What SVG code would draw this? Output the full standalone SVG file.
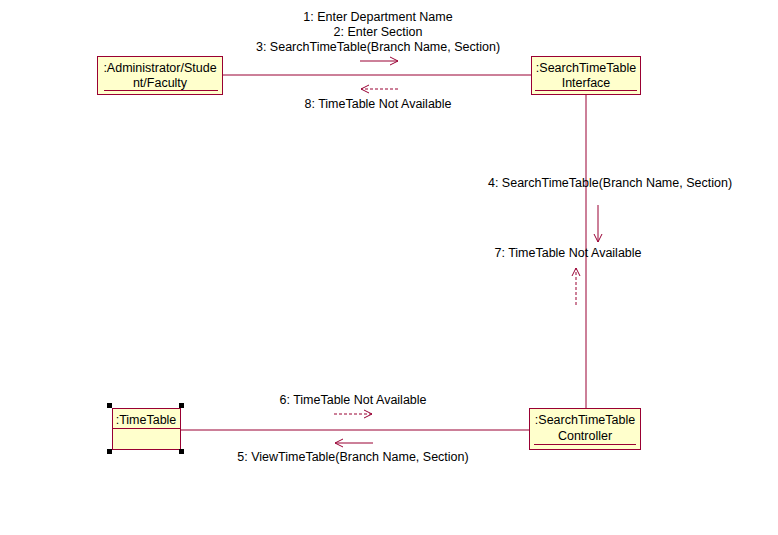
<svg xmlns="http://www.w3.org/2000/svg" width="778" height="535" viewBox="0 0 778 535">
<style>
.box{fill:#FFFFCC;stroke:#990033;stroke-width:1}
.ul{stroke:#990033;stroke-width:1}
.ln{stroke:#990033;stroke-width:1;fill:none}
.dash{stroke-dasharray:3,2}
text{font-family:"Liberation Sans",Arial,sans-serif;font-size:12.5px;fill:#000}
.c{text-anchor:middle}
</style>
<defs>
<marker id="ah" markerWidth="10" markerHeight="10" refX="9" refY="5" orient="auto" markerUnits="userSpaceOnUse">
<path d="M1,1 L9,5 L1,9" fill="none" stroke="#990033" stroke-width="1"/>
</marker>
</defs>
<rect width="778" height="535" fill="#fff"/>
<g id="connectors">
<line class="ln" x1="223" y1="75" x2="531" y2="75"/>
<line class="ln" x1="586" y1="94" x2="586" y2="408"/>
<line class="ln" x1="181" y1="430" x2="529" y2="430"/>
<line class="ln" x1="360" y1="61" x2="398" y2="61" marker-end="url(#ah)"/>
<line class="ln dash" x1="398" y1="89" x2="361" y2="89" marker-end="url(#ah)"/>
<line class="ln" x1="598" y1="205" x2="598" y2="242" marker-end="url(#ah)"/>
<line class="ln dash" x1="576" y1="305" x2="576" y2="268" marker-end="url(#ah)"/>
<line class="ln dash" x1="334" y1="414" x2="372" y2="414" marker-end="url(#ah)"/>
<line class="ln" x1="373" y1="443" x2="335" y2="443" marker-end="url(#ah)"/>
<text class="c" x="378" y="21">1: Enter Department Name</text>
<text class="c" x="378" y="36">2: Enter Section</text>
<text class="c" x="378" y="51">3: SearchTimeTable(Branch Name, Section)</text>
<text class="c" x="378" y="108">8: TimeTable Not Available</text>
<text class="c" x="610" y="187">4: SearchTimeTable(Branch Name, Section)</text>
<text class="c" x="568" y="257">7: TimeTable Not Available</text>
<text class="c" x="353" y="404">6: TimeTable Not Available</text>
<text class="c" x="353" y="461">5: ViewTimeTable(Branch Name, Section)</text>
</g>
<g id="actor">
<rect class="box" x="97.5" y="56.5" width="125" height="38"/>
<text class="c" x="160" y="72">:Administrator/Stude</text>
<text class="c" x="160" y="87">nt/Faculty</text>
<line class="ul" x1="104" y1="90.5" x2="218" y2="90.5"/>
</g>
<g id="interface">
<rect class="box" x="531.5" y="56.5" width="109" height="38"/>
<text class="c" x="586" y="72">:SearchTimeTable</text>
<text class="c" x="586" y="87">Interface</text>
<line class="ul" x1="535" y1="90.5" x2="637" y2="90.5"/>
</g>
<g id="controller">
<rect class="box" x="529.5" y="408.5" width="111" height="41"/>
<text class="c" x="585" y="424">:SearchTimeTable</text>
<text class="c" x="585" y="440">Controller</text>
<line class="ul" x1="534" y1="444.5" x2="636" y2="444.5"/>
</g>
<g id="timetable">
<rect class="box" x="112.5" y="408.5" width="68" height="41"/>
<text class="c" x="146" y="424">:TimeTable</text>
<line class="ul" x1="112.5" y1="428.5" x2="180.5" y2="428.5"/>
<rect x="107" y="403" width="5" height="5" fill="#000"/>
<rect x="179" y="403" width="5" height="5" fill="#000"/>
<rect x="107" y="449" width="5" height="5" fill="#000"/>
<rect x="179" y="449" width="5" height="5" fill="#000"/>
</g>
</svg>
